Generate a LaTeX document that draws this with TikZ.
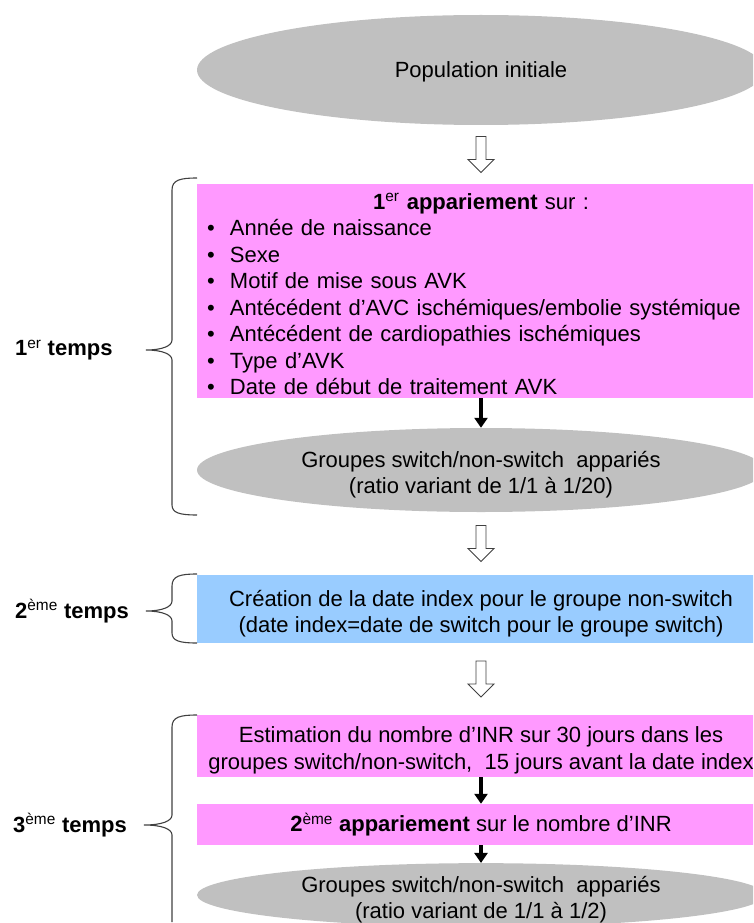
\documentclass[tikz,border=0pt]{standalone}
\usepackage{fontspec}
\setmainfont{Liberation Sans}
\usepackage{tikz}
\usetikzlibrary{shapes.geometric,arrows.meta,calc}
\usepackage{xcolor}

\definecolor{rose}{HTML}{FF99FF}
\definecolor{bleu}{HTML}{99CCFF}
\definecolor{gris}{HTML}{C0C0C0}
\newcommand{\expo}[1]{\textsuperscript{\mdseries #1}}
\newcommand{\puce}{\makebox[23pt][l]{\textbullet}}
\newcommand{\haut}{\rule{0pt}{26pt}}

\begin{document}
\begin{tikzpicture}[x=1pt, y=-1pt,
        texte/.style={font=\fontsize{22}{26.5}\selectfont, align=center, inner sep=0pt},
        ovale/.style={texte, ellipse, fill=gris, minimum width=568pt},
        boite/.style={texte, rectangle, minimum width=568pt},
        etiquette/.style={font=\fontsize{22}{26}\selectfont\bfseries, anchor=west, inner sep=0pt},
        noire/.style={line width=3.5pt, -{Triangle[width=13pt,length=10pt]}},
        accolade/.style={line width=1.1pt, draw=black!75},
        creuse/.pic={\draw[line width=0.9pt, draw=black!75, fill=white] (-5,-18) -- (5,-18) -- (5,5) -- (13,5) -- (0,18) -- (-13,5) -- (-5,5) -- cycle;}]
        \useasboundingbox (0,0) rectangle (753,923);
        \clip (0,0) rectangle (753,923);

        \node[ovale, minimum height=110pt] (pop) at (481,70) {\rule{0pt}{20pt}Population initiale};
        \node[boite, fill=rose, align=left, text width=548pt, inner xsep=10pt, minimum height=214pt] (crit) at (481,291)
            {{\centering\rule{0pt}{22pt}\textbf{1\expo{er} appariement} sur :\par}
             \puce Année de naissance\\
             \puce Sexe\\
             \puce Motif de mise sous AVK\\
             \puce Antécédent d’AVC ischémiques/embolie systémique\\
             \puce Antécédent de cardiopathies ischémiques\\
             \puce Type d’AVK\\
             \puce Date de début de traitement AVK};
        \node[ovale, minimum height=84pt] (grp1) at (481,470) {\haut Groupes switch/non-switch\ \ appariés\\(ratio variant de 1/1 à 1/20)};
        \node[boite, fill=bleu, minimum height=68pt] (idx) at (481,609) {\haut Création de la date index pour le groupe non-switch\\(date index=date de switch pour le groupe switch)};
        \node[boite, fill=rose, minimum height=62pt] (inr) at (481,746) {\rule{0pt}{25pt}Estimation du nombre d’INR sur 30 jours dans les\\groupes switch/non-switch,\ \ 15 jours avant la date index};
        \node[boite, fill=rose, minimum height=41pt] (app2) at (481,824.5) {\rule{0pt}{19pt}\textbf{2\expo{ème} appariement} sur le nombre d’INR};
        \node[ovale, inner ysep=-6pt, minimum height=56pt] (grp2) at (481,895) {\haut Groupes switch/non-switch\ \ appariés\\(ratio variant de 1/1 à 1/2)};

        % fleches
        \pic at ($(pop.south)!0.5!(crit.north)$) {creuse};
        \pic at ($(grp1.south)!0.5!(idx.north)$) {creuse};
        \pic at ($(idx.south)!0.5!(inr.north)$) {creuse};
        \draw[noire] (crit.south) -- (grp1.north);
        \draw[noire] (inr.south) -- (app2.north);
        \draw[noire] (app2.south) -- (grp2.north);

        % temps
        \node[etiquette] (t1) at (15,350) {1\expo{er} temps};
        \node[etiquette] (t2) at (15,611) {2\expo{ème} temps};
        \node[etiquette] (t3) at (13,825) {3\expo{ème} temps};
        \draw[accolade] (197,178) .. controls (180,178) and (172,180) .. (172,190) -- (172,340) .. controls (172,346) and (162,350) .. (146,350) .. controls (162,350) and (172,354) .. (172,360) -- (172,505) .. controls (172,513) and (180,515) .. (197,515);
        \draw[accolade] (197,574) .. controls (180,574) and (172,576) .. (172,586) -- (172,601) .. controls (172,607) and (162,611) .. (146,611) .. controls (162,611) and (172,615) .. (172,621) -- (172,633) .. controls (172,641) and (180,643) .. (197,643);
        \draw[accolade] (197,715) .. controls (180,715) and (172,717) .. (172,727) -- (172,815) .. controls (172,821) and (162,825) .. (144,825) .. controls (162,825) and (172,829) .. (172,835) -- (172,922);
\end{tikzpicture}
\end{document}
